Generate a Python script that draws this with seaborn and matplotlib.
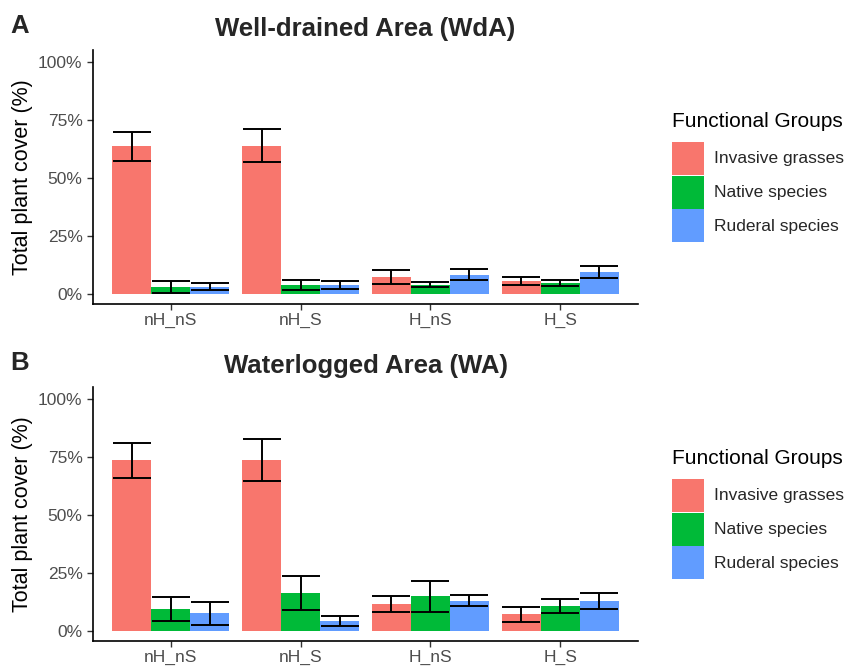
import numpy as np
import pandas as pd
import matplotlib
matplotlib.use("Agg")
import matplotlib.pyplot as plt
import seaborn as sns

treatments = ["nH_nS", "nH_S", "H_nS", "H_S"]
groups = ["Invasive grasses", "Native species", "Ruderal species"]
colors = ["#F8766D", "#00BA38", "#619CFF"]

# Well-drained area (mean / se, % cover)
wda_invasive = [63.5, 63.8, 7.0, 5.4]
wda_native = [2.8, 3.7, 3.8, 4.5]
wda_ruderal = [3.0, 3.6, 8.2, 9.2]
wda_invasive_se = [6.2, 7.0, 3.0, 1.6]
wda_native_se = [2.5, 2.2, 1.1, 1.4]
wda_ruderal_se = [1.5, 1.8, 2.2, 2.6]

# Waterlogged area
wa_invasive = [73.4, 73.6, 11.5, 7.0]
wa_native = [9.3, 16.3, 14.7, 10.6]
wa_ruderal = [7.4, 4.1, 12.8, 12.8]
wa_invasive_se = [7.5, 9.2, 3.6, 3.3]
wa_native_se = [5.0, 7.4, 6.6, 3.2]
wa_ruderal_se = [5.1, 2.1, 2.4, 3.3]

sns.set_style("white")
plt.rcParams['font.family'] = ['Liberation Sans', 'DejaVu Sans']


def make_df(means, ses):
    rows = []
    for g, m, s in zip(groups, means, ses):
        for t, mv, sv in zip(treatments, m, s):
            rows.append({"Treatment": t, "Group": g, "cover": mv, "se": sv})
    return pd.DataFrame(rows)


def draw_panel(ax, df, title, tag):
    sns.barplot(data=df, x="Treatment", y="cover", hue="Group",
                order=treatments, hue_order=groups, palette=colors,
                width=0.9, errorbar=None, linewidth=0, saturation=1, ax=ax)
    for cont, g in zip(ax.containers, groups):
        sub = df[df.Group == g].set_index("Treatment").loc[treatments]
        for bar, m, s in zip(cont, sub.cover, sub.se):
            ax.errorbar(bar.get_x() + bar.get_width() / 2, m, yerr=s,
                        color="black", lw=1.4, capsize=14, capthick=1.4)
    ax.set_ylim(-4.5, 105)
    ax.set_xlim(-0.6, 3.6)
    ax.set_yticks([0, 25, 50, 75, 100])
    ax.set_yticklabels(["0%", "25%", "50%", "75%", "100%"])
    ax.set_xlabel("")
    ax.set_ylabel("Total plant cover (%)", fontsize=15.5, color="black")
    ax.set_title(title, fontsize=18.5, fontweight="bold", pad=10)
    ax.tick_params(axis="both", labelsize=12.5, labelcolor="#4D4D4D",
                   color="#333333", length=4, width=1, bottom=True, left=True)
    ax.tick_params(axis="x", pad=2.5)
    sns.despine(ax=ax)
    for sp in ["left", "bottom"]:
        ax.spines[sp].set_color("black")
        ax.spines[sp].set_linewidth(1.2)
    leg = ax.legend(title="Functional Groups", loc="center left",
                    bbox_to_anchor=(1.062, 0.5), frameon=False,
                    fontsize=12.5, title_fontsize=15, handlelength=1.84,
                    handleheight=2.55, labelspacing=0.05, handletextpad=0.6,
                    borderpad=0, borderaxespad=0, alignment="left")
    leg.get_title().set_color("black")
    leg._legend_box.sep = 8
    ax.text(-0.152, 1.067, tag, transform=ax.transAxes, fontsize=18.5,
            fontweight="bold", va="baseline", ha="left")


fig = plt.figure(figsize=(8.51, 6.66), dpi=100)
ax1 = fig.add_axes([0.1093, 0.5435, 0.6404, 0.3814])
ax2 = fig.add_axes([0.1093, 0.0375, 0.6404, 0.3814])

draw_panel(ax1, make_df([wda_invasive, wda_native, wda_ruderal],
                        [wda_invasive_se, wda_native_se, wda_ruderal_se]),
           "Well-drained Area (WdA)", "A")
draw_panel(ax2, make_df([wa_invasive, wa_native, wa_ruderal],
                        [wa_invasive_se, wa_native_se, wa_ruderal_se]),
           "Waterlogged Area (WA)", "B")

fig.savefig("out.png", dpi=100)
